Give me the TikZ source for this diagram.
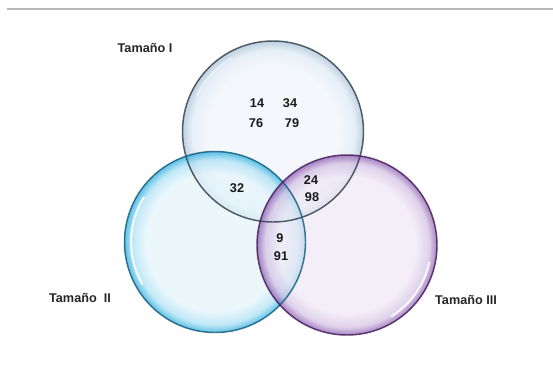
\documentclass[tikz,border=0pt]{standalone}
\usepackage{fontspec}
\setmainfont{Liberation Sans}
\usetikzlibrary{calc}
% bubble colours
\definecolor{oneIn}{HTML}{F2F6FB}
\definecolor{oneMid}{HTML}{E1EBF5}
\definecolor{oneOut}{HTML}{AFC6DA}
\definecolor{oneLine}{HTML}{34424F}
\definecolor{twoIn}{HTML}{E5F5FC}
\definecolor{twoMid}{HTML}{A9E0F5}
\definecolor{twoOut}{HTML}{1CA8DC}
\definecolor{twoLine}{HTML}{175F7E}
\definecolor{thrIn}{HTML}{EFE8F5}
\definecolor{thrMid}{HTML}{D2BFE2}
\definecolor{thrOut}{HTML}{8550AB}
\definecolor{thrLine}{HTML}{451D5C}
% glossy radial fills: light centre, saturated rim at 25bp
\pgfdeclareradialshading{bubOne}{\pgfpoint{0bp}{0bp}}{color(0bp)=(oneIn); color(18bp)=(oneIn); color(22.5bp)=(oneMid); color(25bp)=(oneOut); color(50bp)=(oneOut)}
\pgfdeclareradialshading{bubTwo}{\pgfpoint{0bp}{0bp}}{color(0bp)=(twoIn); color(19bp)=(twoIn); color(22.8bp)=(twoMid); color(25bp)=(twoOut); color(50bp)=(twoOut)}
\pgfdeclareradialshading{bubThr}{\pgfpoint{0bp}{0bp}}{color(0bp)=(thrIn); color(19bp)=(thrIn); color(22.8bp)=(thrMid); color(25bp)=(thrOut); color(50bp)=(thrOut)}
\begin{document}
\begin{tikzpicture}[x=0.75pt,y=-0.75pt,
  lbl/.style={font=\bfseries\fontsize{9.5}{11}\selectfont, text=black!85, inner sep=0pt},
  num/.style={font=\bfseries\fontsize{9.5}{11}\selectfont, text=black!90, inner sep=0pt},
  gloss/.style={white, line width=1.6pt, line cap=round, opacity=0.85}]
\useasboundingbox (0,0) rectangle (553,372);
\fill[white] (0,0) rectangle (553,372);
% rule along the top
\draw[black!28, line width=1.1pt] (7,9) -- (553,9);

\coordinate (cI) at (273,131.5);
\coordinate (cII) at (215,242);
\coordinate (cIII) at (347,245);

% fills
\shade[shading=bubOne, fill opacity=0.8] (cI) circle[radius=90.5];
\shade[shading=bubTwo, fill opacity=0.7] (cII) circle[radius=90.5];
\shade[shading=bubThr, fill opacity=0.7] (cIII) circle[radius=90];

% outlines
\draw[oneLine, line width=1.1pt, opacity=0.85] (cI) circle[radius=90.5];
\draw[twoLine, line width=1.1pt, opacity=0.85] (cII) circle[radius=90.5];
\draw[thrLine, line width=1.1pt, opacity=0.85] (cIII) circle[radius=90];

% glossy highlights
\draw[gloss, opacity=0.45] ($(cI)+(205:84)$) arc[start angle=205, end angle=240, radius=84];
\draw[gloss] ($(cII)+(150:84)$) arc[start angle=150, end angle=212, radius=84];
\draw[gloss] ($(cIII)+(12:84)$) arc[start angle=12, end angle=58, radius=84];

% set labels
\node[lbl] (tI) at (145,48) {Tamaño I};
\node[lbl] (tII) at (80,298) {Tamaño\ \ II};
\node[lbl] (tIII) at (466,300) {Tamaño III};

% element numbers
\node[num] (n14) at (257,103) {14};
\node[num] (n34) at (290,103) {34};
\node[num] (n76) at (256,123) {76};
\node[num] (n79) at (292,123) {79};
\node[num] (n32) at (237,188) {32};
\node[num] (n24) at (311,180) {24};
\node[num] (n98) at (312,197) {98};
\node[num] (n9) at (280,238) {9};
\node[num] (n91) at (281,256) {91};
\end{tikzpicture}
\end{document}
